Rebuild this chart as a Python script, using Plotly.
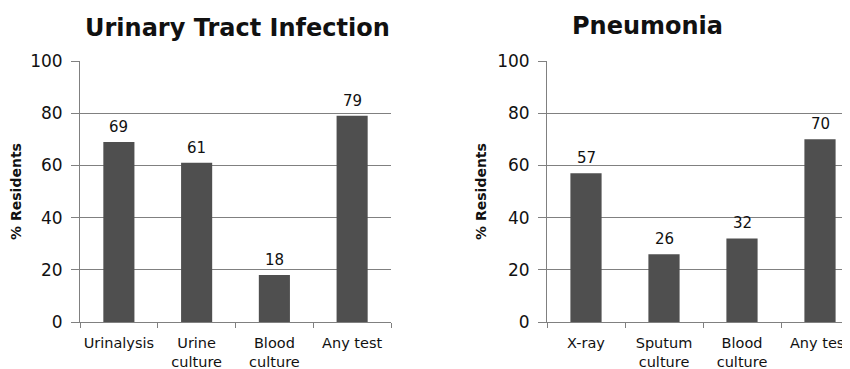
import plotly.graph_objects as go

uti_categories = ["Urinalysis", "Urine<br>culture", "Blood<br>culture", "Any test"]
uti_values = [69, 61, 18, 79]
pn_categories = ["X-ray", "Sputum<br>culture", "Blood<br>culture", "Any test"]
pn_values = [57, 26, 32, 70]
y_ticks = [0, 20, 40, 60, 80, 100]

# page body has an 8px margin, so the figure is placed at (8, 8)
OFF = 8
W, H = 850 - OFF, 369 - OFF
FONT = "DejaVu Sans"
BAR = "#4f4f4f"
GRID = "#808080"


def px(x):
    return (x - OFF) / W


def py(y):
    return 1 - (y - OFF) / H


fig = go.Figure()
fig.add_trace(go.Bar(x=uti_categories, y=uti_values, xaxis="x", yaxis="y",
                     marker=dict(color=BAR, line=dict(width=0)), width=0.4))
fig.add_trace(go.Bar(x=pn_categories, y=pn_values, xaxis="x2", yaxis="y2",
                     marker=dict(color=BAR, line=dict(width=0)), width=0.4))

annotations = []
for cats, vals, xr, yr in [(uti_categories, uti_values, "x", "y"), (pn_categories, pn_values, "x2", "y2")]:
    for c, v in zip(cats, vals):
        annotations.append(dict(x=c, y=v, xref=xr, yref=yr, text=str(v), showarrow=False,
                                xanchor="center", yanchor="bottom", yshift=4,
                                font=dict(family=FONT, size=15, color="#111")))

ydom = [py(322), py(61)]

xcommon = dict(type="category", showgrid=False, showline=True, linecolor=GRID, linewidth=1,
               ticks="outside", tickson="boundaries", ticklen=5, tickcolor=GRID,
               ticklabelstandoff=8, tickangle=0,
               tickfont=dict(family=FONT, size=14.5, color="#111"), fixedrange=True)
ycommon = dict(range=[0, 100], tickvals=y_ticks, showgrid=True, gridcolor=GRID, gridwidth=1,
               showline=True, linecolor=GRID, linewidth=1, ticks="outside", ticklen=8,
               tickcolor=GRID, zeroline=False, ticklabelstandoff=5,
               tickfont=dict(family=FONT, size=17, color="#111"),
               title=dict(text="<b>% Residents</b>", font=dict(family=FONT, size=14, color="#111"),
                          standoff=7))

annotations += [
    dict(text="<b>Urinary Tract Infection</b>", x=px(237), y=py(28), xref="paper", yref="paper",
         xanchor="center", yanchor="middle", showarrow=False,
         font=dict(family=FONT, size=24, color="#111")),
    dict(text="<b>Pneumonia</b>", x=px(647), y=py(26), xref="paper", yref="paper",
         xanchor="center", yanchor="middle", showarrow=False,
         font=dict(family=FONT, size=24, color="#111")),
]

fig.update_layout(
    width=W, height=H, margin=dict(l=0, r=0, t=0, b=0, autoexpand=False),
    paper_bgcolor="white", plot_bgcolor="white", showlegend=False,
    xaxis=dict(domain=[px(80), px(391)], range=[-0.5, 3.5], anchor="y", **xcommon),
    yaxis=dict(domain=ydom, anchor="x", **ycommon),
    xaxis2=dict(domain=[px(547), 1.0], range=[-0.5, 3.5 - 9 / 78], anchor="y2", **xcommon),
    yaxis2=dict(domain=ydom, anchor="x2", **ycommon),
    annotations=annotations,
)

fig.write_html("out.html")
